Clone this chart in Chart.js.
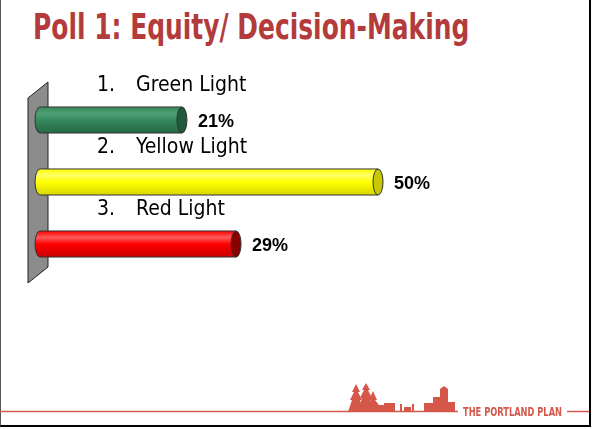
<!DOCTYPE html>
<html>
<head>
<meta charset="utf-8">
<script src="https://cdn.jsdelivr.net/npm/chart.js@4"></script>
<style>
  html, body { margin: 0; padding: 0; background: #fff; }
  body { width: 593px; height: 429px; position: relative; overflow: hidden; }
  #frame { position: absolute; left: 0; top: -2px; width: 588px; height: 427px;
    border-left: 1px solid #555; border-right: 2px solid #000; border-bottom: 2px solid #000; }
  #title { position: absolute; left: 33px; top: 6px; margin: 0;
    font-family: "DejaVu Sans Condensed", "Liberation Sans Narrow", sans-serif; font-weight: bold;
    font-size: 36px; color: #b33b3b; white-space: nowrap;
    transform: scaleX(0.77); transform-origin: 0 0; }
  #chart { position: absolute; left: 0; top: 0; }
  #footer { position: absolute; left: 0; top: 380px; width: 593px; height: 40px; }
</style>
</head>
<body>
<div id="frame"></div>
<h1 id="title">Poll 1: Equity/ Decision-Making</h1>
<canvas id="chart" width="593" height="429"></canvas>
<svg id="footer" width="593" height="40" viewBox="0 380 593 40">
  <line x1="0" y1="411.5" x2="458" y2="411.5" stroke="#d4574a" stroke-width="1.5"/>
  <line x1="567" y1="411.5" x2="589" y2="411.5" stroke="#d4574a" stroke-width="1.5"/>
  <g fill="#d4574a">
    <polygon points="348,412 352,400 350,400 354,392 352,392 356,384 360,392 358,392 362,400 360,400 364,412"/>
    <polygon points="358,412 362,398 360,398 364,390 362,390 366,383 370,390 368,390 372,398 370,398 374,412"/>
    <polygon points="368,412 371,400 369,400 373,391 377,400 375,400 379,405 385,405 385,412"/>
    <rect x="384" y="403" width="11" height="9"/>
    <rect x="400" y="404" width="2" height="8"/>
    <rect x="404" y="407" width="7" height="5"/>
    <rect x="412" y="404" width="2" height="8"/>
    <rect x="424" y="403" width="10" height="9"/>
    <rect x="433" y="397" width="8" height="15"/>
    <polygon points="440,412 440,389 444,386 448,389 448,412"/>
    <rect x="447" y="402" width="8" height="10"/>
  </g>
  <text x="463" y="416" font-family="DejaVu Sans Condensed, sans-serif" font-weight="bold"
        font-size="12" fill="#d4574a" textLength="99" lengthAdjust="spacingAndGlyphs">THE PORTLAND PLAN</text>
</svg>
<script>
  // poll answers and result shares (%)
  const categories = ['Green Light', 'Yellow Light', 'Red Light'];
  const values = [21, 50, 29];
  const bodyColors = [['#4f9e74', '#368a5c', '#246844'], ['#ffff66', '#ffff00', '#d6d600'], ['#ff5a5a', '#ff0000', '#c80000']];
  const capColors = ['#1f5a3a', '#c8c800', '#8a0000'];

  const FONT = '"DejaVu Sans Condensed", "Liberation Sans Narrow", sans-serif';

  // gray wall the bars stick out of
  const wallPlugin = {
    id: 'wall',
    beforeDatasetsDraw(chart) {
      const a = chart.chartArea;
      const ctx = chart.ctx;
      ctx.save();
      ctx.beginPath();
      ctx.moveTo(a.left - 12, a.top + 9);
      ctx.lineTo(a.left + 8, a.top - 7);
      ctx.lineTo(a.left + 8, a.bottom - 8);
      ctx.lineTo(a.left - 12, a.bottom + 8);
      ctx.closePath();
      ctx.fillStyle = '#8c8c8c';
      ctx.fill();
      ctx.strokeStyle = '#222';
      ctx.lineWidth = 1;
      ctx.stroke();
      ctx.restore();
    }
  };

  // cylinders, labels above bars, values right of bars
  const cylinderPlugin = {
    id: 'cylinders',
    afterDatasetsDraw(chart) {
      const ctx = chart.ctx;
      const meta = chart.getDatasetMeta(0);
      meta.data.forEach((bar, i) => {
        const { x, y, base, height } = bar.getProps(['x', 'y', 'base', 'height'], true);
        const ry = height / 2;
        const rx = 5;
        const top = y - ry;
        const g = ctx.createLinearGradient(0, top, 0, top + height);
        g.addColorStop(0, bodyColors[i][1]);
        g.addColorStop(0.25, bodyColors[i][0]);
        g.addColorStop(0.5, bodyColors[i][1]);
        g.addColorStop(1, bodyColors[i][2]);
        ctx.save();
        ctx.beginPath();
        ctx.moveTo(x, top);
        ctx.lineTo(base, top);
        ctx.ellipse(base, y, rx, ry, 0, -Math.PI / 2, Math.PI / 2, true);
        ctx.lineTo(x, top + height);
        ctx.closePath();
        ctx.fillStyle = g;
        ctx.fill();
        ctx.strokeStyle = '#333';
        ctx.lineWidth = 1;
        ctx.stroke();
        // end cap
        ctx.beginPath();
        ctx.ellipse(x, y, rx, ry, 0, 0, Math.PI * 2);
        ctx.fillStyle = capColors[i];
        ctx.fill();
        ctx.stroke();
        // category label
        ctx.fillStyle = '#000';
        ctx.font = '21px ' + FONT;
        ctx.textBaseline = 'middle';
        ctx.textAlign = 'left';
        ctx.fillText((i + 1) + '.', 97, y - 34);
        ctx.fillText(categories[i], 136, y - 34);
        // value label
        ctx.font = 'bold 18px "Liberation Sans", Arial, sans-serif';
        ctx.fillText(values[i] + '%', x + 16, y + 2);
        ctx.restore();
      });
    }
  };

  new Chart(document.getElementById('chart'), {
    type: 'bar',
    data: {
      labels: categories,
      datasets: [{
        data: values,
        backgroundColor: 'rgba(0,0,0,0)',
        borderWidth: 0,
        barPercentage: 0.42,
        categoryPercentage: 1
      }]
    },
    options: {
      indexAxis: 'y',
      responsive: false,
      animation: false,
      layout: { padding: { left: 40, right: 215, top: 89, bottom: 154 } },
      plugins: { legend: { display: false }, tooltip: { enabled: false } },
      scales: {
        x: { min: 0, max: 50, display: false },
        y: { display: false }
      }
    },
    plugins: [wallPlugin, cylinderPlugin]
  });
</script>
</body>
</html>
